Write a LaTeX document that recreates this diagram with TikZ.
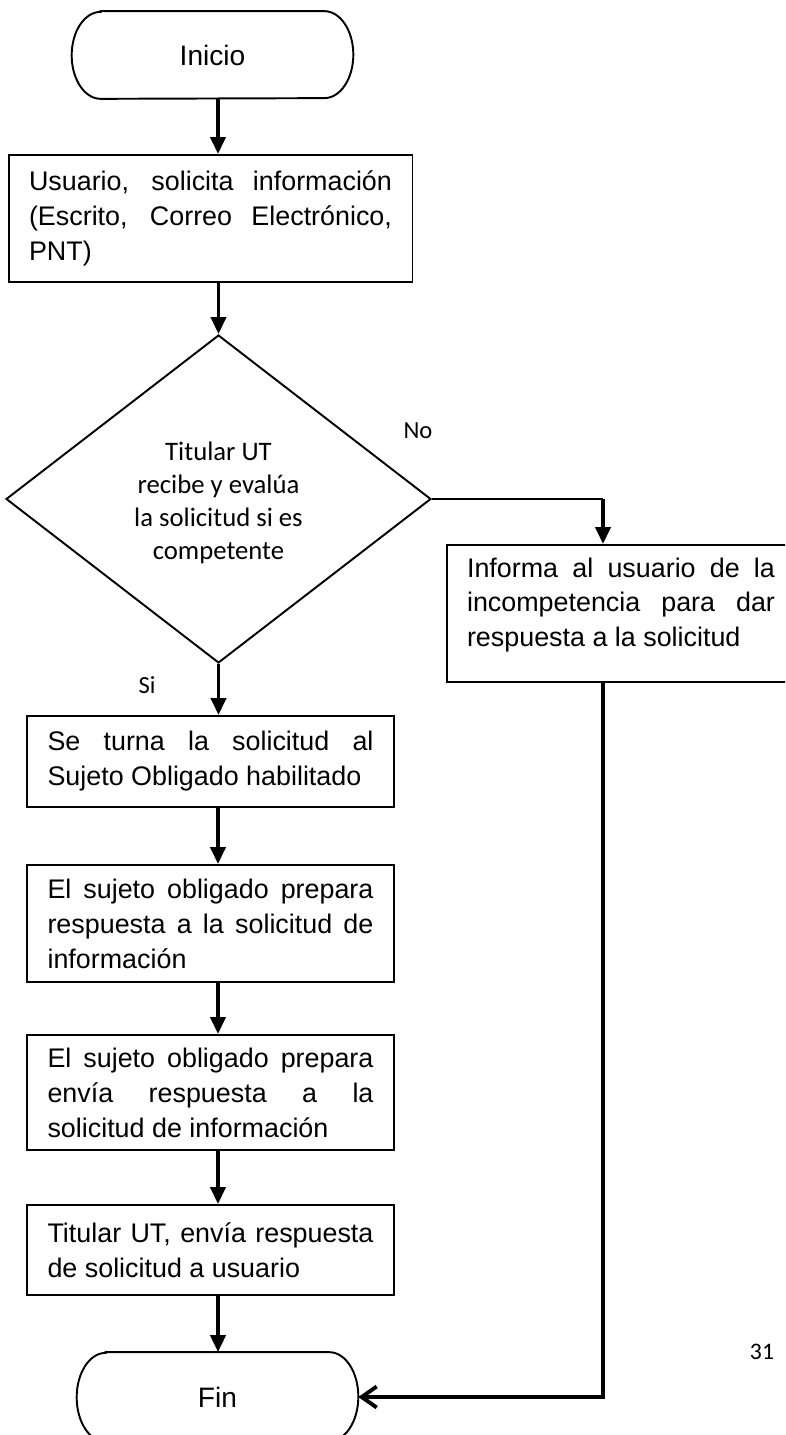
\documentclass[tikz,border=0pt]{standalone}
\usepackage{fontspec}
\setmainfont{Liberation Sans}
\newfontfamily\calibri{Carlito}
\usetikzlibrary{arrows.meta, shapes.geometric}
\hyphenpenalty=10000
\exhyphenpenalty=10000
\tikzset{
  term/.style={inner sep=0pt, minimum width=5.62cm, font=\fontsize{16}{19}\selectfont},
  pbox/.style={draw, line width=1.1pt, align=justify, inner xsep=0.41cm, inner ysep=0pt,
    font=\fontsize{15.3}{19.9}\selectfont},
  dbox/.style={draw, diamond, line width=1.1pt, inner sep=0pt, minimum width=8.5cm,
    minimum height=6.56cm, align=center, font=\calibri\fontsize{15.2}{18.8}\selectfont},
  lbl/.style={inner sep=0pt, font=\calibri\fontsize{14}{16}\selectfont},
  flow/.style={-{Triangle[length=0.34cm, width=0.3cm]}, line width=2.2pt},
  back/.style={-{Straight Barb[length=0.3cm, width=0.42cm]}, line width=2.2pt},
}
% outline of a start/end node: flat top and bottom, oval ends
\newcommand{\stadium}[2]{%
  \draw[line width=1.1pt] ([xshift=0.58cm]#1.north west) -- ([xshift=-0.58cm]#1.north east)
    arc[start angle=90, end angle=-90, x radius=0.58cm, y radius=#2]
    -- ([xshift=0.58cm]#1.south west)
    arc[start angle=270, end angle=90, x radius=0.58cm, y radius=#2] -- cycle;}

\begin{document}
\begin{tikzpicture}[x=0.02cm, y=-0.02cm]
    \clip (0,0) rectangle (785,1435);
    % main column
    \node[term, minimum height=1.74cm] (ini) at (212.5,55) {Inicio};
    \stadium{ini}{0.87cm}
    \node[pbox, text width=7.26cm, minimum height=2.54cm] (usr) at (210.5,218.5)
      {Usuario, solicita información\linebreak (Escrito, Correo Electrónico,\linebreak PNT)};
    \node[dbox] (eval) at (218.5,499)
      {\rule{0pt}{0.53cm}Titular UT\\recibe y evalúa\\la solicitud si es\\competente};
    \node[pbox, text width=6.52cm, minimum height=1.82cm] (turn) at (210.5,761.5)
      {Se turna la solicitud al\linebreak Sujeto Obligado habilitado};
    \node[pbox, text width=6.52cm, minimum height=2.34cm] (prep) at (210.5,923.5)
      {El sujeto obligado prepara\linebreak respuesta a la solicitud de\linebreak información};
    \node[pbox, text width=6.52cm, minimum height=2.3cm] (envia) at (210.5,1092.5)
      {El sujeto obligado prepara\linebreak envía respuesta a la\linebreak solicitud de información};
    \node[pbox, text width=6.52cm, minimum height=1.8cm] (resp) at (210.5,1250)
      {Titular UT, envía respuesta\linebreak de solicitud a usuario};
    \node[term, minimum height=1.78cm] (fin) at (217.5,1397) {Fin};
    \stadium{fin}{0.89cm}
    % side branch
    \node[pbox, text width=6.16cm, minimum height=2.74cm] (info) at (621,613.5)
      {Informa al usuario de la\linebreak incompetencia para dar\linebreak respuesta a la solicitud\rule[-0.45cm]{0pt}{0pt}};
    \node[lbl] (no) at (418,431) {No};
    \node[lbl] (si) at (147,685) {Si};
    \node[font=\calibri\fontsize{13.5}{16}\selectfont] (pg) at (762,1352) {31};

    \coordinate (spine) at (218,0);
    \coordinate (side) at (603,0);
    \draw[flow] (ini.south -| spine) -- (usr.north -| spine);
    \draw[flow] (usr.south -| eval.north) -- (eval.north);
    \draw[flow] (eval.south) -- (turn.north -| eval.south);
    \draw[flow] (turn.south -| spine) -- (prep.north -| spine);
    \draw[flow] (prep.south -| spine) -- (envia.north -| spine);
    \draw[flow] (envia.south -| spine) -- (resp.north -| spine);
    \draw[flow] (resp.south -| spine) -- (fin.north -| spine);
    \draw[line width=1.5pt] (eval.east) -- (eval.east -| side);
    \draw[flow] (eval.east -| side) -- (info.north -| side);
    \draw[back] (info.south -| side) |- (fin.east);
  \end{tikzpicture}
\end{document}
